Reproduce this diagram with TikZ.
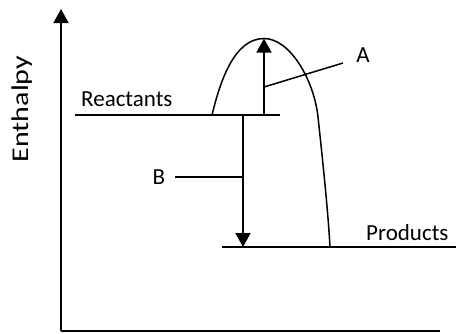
\documentclass[tikz,border=0pt]{standalone}
\usepackage{fontspec}
\setmainfont{Carlito}
\usetikzlibrary{arrows.meta}
\tikzset{
  ln/.style={line width=1.5pt, black},
  tri/.style={-{Triangle[width=15pt,length=14pt]}},
  lbl/.style={font=\fontsize{23}{26}\selectfont, inner sep=0pt},
}
\begin{document}
\begin{tikzpicture}[x=1pt,y=-1pt]
\useasboundingbox (0,0) rectangle (456,333);
% axes
\coordinate (origin) at (61,331);
\coordinate (ytop) at (61,9);
\coordinate (xend) at (440,331);
\draw[ln,tri] (origin) -- (ytop);
\draw[ln] (origin) -- (xend);
\node[lbl, rotate=90] (enth) at (22,109) {\fontsize{24}{26}\selectfont\scalebox{1.25}[1]{Enthalpy}};
% levels
\coordinate (rL) at (75,115);
\coordinate (rR) at (280,115);
\coordinate (pL) at (222,247);
\coordinate (pR) at (456,247);
\draw[ln] (rL) -- (rR);
\draw[ln] (pL) -- (pR);
\node[lbl, anchor=base west] (react) at (81,106) {Reactants};
\node[lbl, anchor=base west] (prod) at (366,240) {Products};
% curve
\coordinate (cs) at (212,115);
\coordinate (peak) at (264,38.5);
\coordinate (cm) at (318,117);
\coordinate (ce) at (330,247);
\draw[ln] (cs) .. controls (220,82) and (234,38.5) .. (peak)
  .. controls (290,38.5) and (314,80) .. (cm)
  .. controls (322,154) and (328,210) .. (ce);
% arrow A
\coordinate (aBase) at (264,115);
\coordinate (aPt) at (264,87);
\coordinate (aEnd) at (343,63);
\draw[ln,tri] (aBase) -- (peak);
\draw[ln] (aPt) -- (aEnd);
\node[lbl] (A) at (363,55) {A};
% arrow B
\coordinate (bTop) at (243,115);
\coordinate (bBot) at (243,247);
\coordinate (bPt) at (243,177);
\coordinate (bEnd) at (175,177);
\draw[ln,tri] (bTop) -- (bBot);
\draw[ln] (bEnd) -- (bPt);
\node[lbl] (B) at (159,177) {B};
\end{tikzpicture}
\end{document}
